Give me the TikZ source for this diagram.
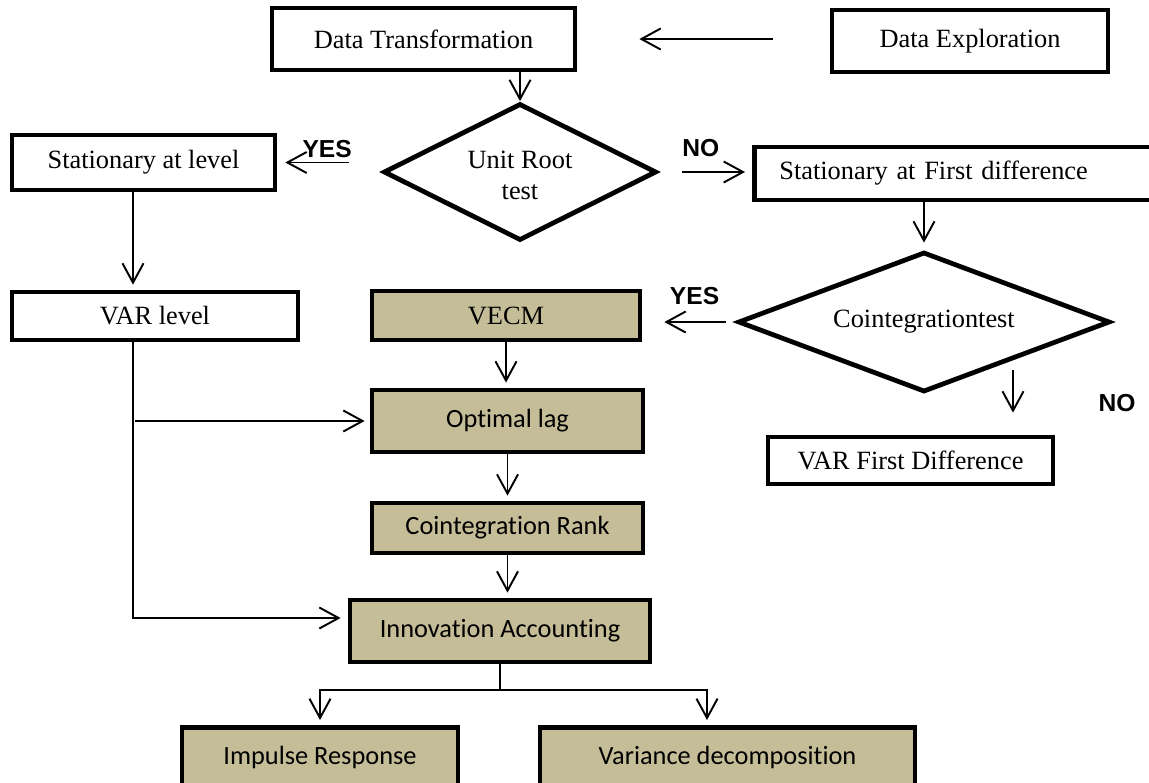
\documentclass[tikz,border=0pt]{standalone}
\usepackage{fontspec}
\setmainfont{Liberation Serif}
\newfontfamily\calibri[Ligatures=NoCommon]{Carlito}
\newfontfamily\arial{Liberation Sans}
\usepackage{xcolor}
\usetikzlibrary{shapes.geometric, arrows.meta}
\definecolor{TanFill}{HTML}{C4BD97}

\begin{document}
\begin{tikzpicture}[
    every node/.style={font=\fontsize{15}{18}\selectfont},
    box/.style={draw, line width=2.7pt, inner sep=0pt, minimum height=1.24cm},
    tanbox/.style={box, fill=TanFill},
    calfont/.style={font=\fontsize{15}{18}\selectfont\calibri},
    decision/.style={draw, diamond, line width=2.7pt, inner sep=0pt, align=center},
    link/.style={line width=1.1pt},
    flow/.style={link, -{Straight Barb[length=11pt, width=12pt]}},
    answer/.style={font=\fontsize{14}{16}\selectfont\arial\bfseries, inner sep=1pt}
  ]
    \path[use as bounding box, fill=white] (0,0) rectangle (22.98,-15.64);

    % top row and first test
    \node[box, minimum width=6.06cm] (trans) at (8.47,-0.78) {Data Transformation};
    \node[box, minimum width=5.52cm] (explore) at (19.40,-0.82) {Data Exploration};
    \node[decision, aspect=2, minimum width=5.46cm, minimum height=2.74cm] (unitroot) at (10.40,-3.44) {\rule{0pt}{14pt}Unit Root\\test};
    \node[box, minimum width=5.26cm, minimum height=1.10cm] (statlevel) at (2.87,-3.25) {Stationary at level};
    \node[box, anchor=west, text width=7.9cm, align=left, inner xsep=0.5cm,
          minimum height=1.06cm] (statdiff) at (15.04,-3.47) {Stationary at First difference};

    % second test
    \node[decision, aspect=2.66, minimum width=7.44cm, minimum height=2.80cm] (cointtest) at (18.48,-6.44) {Cointegrationtest};
    \node[box, minimum width=5.72cm, minimum height=0.96cm] (varlevel) at (3.10,-6.32) {VAR level};
    \node[box, minimum width=5.70cm, minimum height=0.94cm] (vardiff) at (18.21,-9.21) {VAR First Difference};

    % estimation column
    \node[tanbox, minimum width=5.36cm, minimum height=0.98cm] (vecm) at (10.12,-6.31) {VECM};
    \node[tanbox, calfont, minimum width=5.42cm] (optlag) at (10.15,-8.42) {Optimal lag};
    \node[tanbox, calfont, minimum width=5.42cm, minimum height=1.00cm] (rank) at (10.15,-10.56) {Cointegration Rank};
    \node[tanbox, calfont, minimum width=6.00cm] (innov) at (10.00,-12.62) {Innovation Accounting};
    \node[tanbox, calfont, anchor=north, minimum width=5.52cm, minimum height=1.22cm] (impulse) at (6.40,-14.50) {Impulse Response};
    \node[tanbox, calfont, anchor=north, minimum width=7.50cm, minimum height=1.22cm] (variance) at (14.55,-14.50) {Variance decomposition};

    \node[answer] (nolabel) at (22.34,-8.06) {NO};

    % connectors
    \draw[flow, shorten <=1.14cm, shorten >=1.24cm] (trans.east -| explore.west) -- (trans.east);
    \draw[flow] (unitroot.north |- trans.south) -- (unitroot.north);
    \draw[flow, shorten <=0.64cm, shorten >=0.16cm] (unitroot.west |- statlevel.east)
      -- node[answer, above=1pt, pos=0.52] {YES} (statlevel.east);
    \draw[flow, shorten <=0.46cm, shorten >=0.14cm] (unitroot.east)
      -- node[answer, above=7pt, pos=0.45] {NO} (unitroot.east -| statdiff.west);
    \draw[flow, shorten >=0.14cm] (cointtest.north |- statdiff.south) -- (cointtest.north);
    \draw[flow, shorten <=0.2cm, shorten >=0.44cm] (cointtest.west)
      -- node[answer, above=8pt, pos=0.44] {YES} (cointtest.west -| vecm.east);
    \coordinate (nohead) at (20.26,-7.40);
    \draw[flow, shorten >=0.44cm] (nohead) -- (nohead |- vardiff.north);
    \draw[flow, shorten >=0.1cm] ([xshift=-0.21cm]statlevel.south) -- ([xshift=-0.21cm]statlevel.south |- varlevel.north);

    \coordinate (spine) at ([xshift=-0.44cm]varlevel.south);
    \draw[flow, shorten >=0.14cm] (spine) |- ([yshift=0.26cm]innov.west);
    \draw[flow, shorten <=0.04cm, shorten >=0.1cm] (spine |- optlag.west) -- (optlag.west);

    \foreach \from/\to in {vecm/optlag, optlag/rank, rank/innov}
      \draw[flow, shorten >=0.1cm] (\from.south) -- (\from.south |- \to.north);

    \coordinate (split) at ([yshift=-0.52cm]innov.south);
    \draw[link] (innov.south) -- (split);
    \draw[flow, shorten >=0.1cm] (split) -| (impulse.north);
    \draw[flow, shorten >=0.1cm] (split) -| ([xshift=-0.41cm]variance.north);
\end{tikzpicture}
\end{document}
